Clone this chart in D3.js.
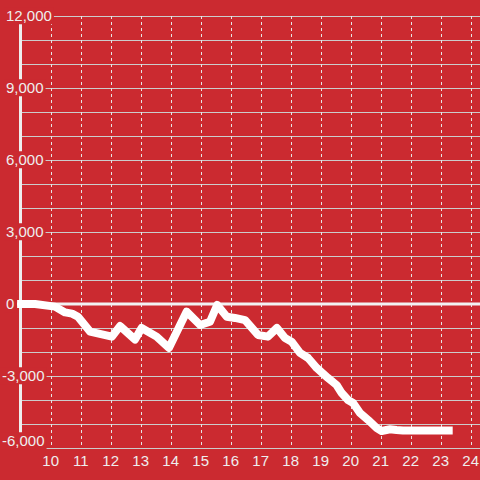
<!DOCTYPE html>
<html lang="en">
<head>
    <meta charset="UTF-8">
    <title>Chart</title>
</head>
<body style="margin:0">
<style>
    body { background: #cb2a30; }
    text { font-family: "Liberation Sans", Arial, sans-serif; font-size: 15px; fill: #eeeeee; }
</style>
<svg width="480" height="480"></svg>
<script src="https://cdn.jsdelivr.net/npm/d3@7"></script>
<script>

    // values
    var times = [8.88, 9.48, 10.14, 10.48, 10.71, 10.91, 11.31, 12.04, 12.31, 12.81, 13.03, 13.53, 13.94,
        14.53, 14.98, 15.31, 15.55, 15.87, 16.14, 16.48, 16.91, 17.24, 17.54, 17.81, 18.03, 18.31, 18.58,
        18.87, 19.24, 19.53, 19.7, 19.91, 20.08, 20.31, 20.58, 20.87, 21.03, 21.31, 21.53, 21.74, 23.4];
    var values = [0, 0, -110, -350, -400, -530, -1150, -1360, -920, -1480, -1000, -1360, -1830,
        -320, -875, -740, -40, -530, -580, -670, -1290, -1360, -1000, -1420, -1570, -2040, -2250,
        -2670, -3080, -3375, -3710, -4000, -4125, -4540, -4830, -5170, -5290, -5220, -5250, -5270, -5270];
    var xTicks = [10, 11, 12, 13, 14, 15, 16, 17, 18, 19, 20, 21, 22, 23, 24];
    var yLabelTicks = [-6000, -3000, 0, 3000, 6000, 9000, 12000];
    var yGridTicks = d3.range(-6000, 12001, 1000);

    var svg = d3.select("svg");

    svg.append("rect").attr("width", 480).attr("height", 480).attr("fill", "#cb2a30");

    var xScale = d3.scaleLinear().domain([10, 24]).range([50.7, 470.7]),
        yScale = d3.scaleLinear().domain([-6000, 12000]).range([448, 16]);

    var fmt = d3.formatLocale({decimal: ".", thousands: ",", grouping: [3], currency: ["$", ""], minus: "-"}).format(",");

    // horizontal grid
    svg.append("g").selectAll("line")
        .data(yGridTicks)
        .enter().append("line")
        .attr("x1", 21).attr("x2", 480)
        .attr("y1", function(d) { return Math.round(yScale(d)) + 0.5; })
        .attr("y2", function(d) { return Math.round(yScale(d)) + 0.5; })
        .attr("stroke", "#cccccc")
        .attr("stroke-width", 1);

    // vertical dashed grid
    svg.append("g").selectAll("line")
        .data(xTicks)
        .enter().append("line")
        .attr("x1", function(d) { return Math.round(xScale(d)) + 0.5; })
        .attr("x2", function(d) { return Math.round(xScale(d)) + 0.5; })
        .attr("y1", yScale(12000)).attr("y2", yScale(-6000))
        .attr("stroke", "#e6e6e6")
        .attr("stroke-width", 1)
        .attr("stroke-dasharray", "3,3");

    // zero line
    svg.append("line")
        .attr("x1", 17).attr("x2", 480)
        .attr("y1", yScale(0)).attr("y2", yScale(0))
        .attr("stroke", "#f2f2f2")
        .attr("stroke-width", 3);

    // y axis line
    svg.append("line")
        .attr("x1", 20.5).attr("x2", 20.5)
        .attr("y1", yScale(12000)).attr("y2", yScale(-6000))
        .attr("stroke", "#eeeeee")
        .attr("stroke-width", 3);

    var data = times.map(function(t, i) { return {t: t, v: values[i]}; });

    var line = d3.line()
        .x(function(d) { return xScale(d.t); })
        .y(function(d) { return yScale(d.v); });

    svg.append("path")
        .datum(data)
        .attr("d", line)
        .attr("fill", "none")
        .attr("stroke", "#ffffff")
        .attr("stroke-width", 8)
        .attr("stroke-linejoin", "round");

    // y labels with background
    var yl = svg.append("g").selectAll("g")
        .data(yLabelTicks)
        .enter().append("g");

    yl.append("text")
        .attr("x", function(d) { return d < 0 ? 2 : 6; })
        .attr("y", function(d) { return yScale(d) + (d === -6000 ? -7 : 0); })
        .attr("dy", "0.35em")
        .text(function(d) { return fmt(d); })
        .each(function() {
            var b = this.getBBox();
            d3.select(this.parentNode).insert("rect", "text")
                .attr("x", b.x - 2).attr("y", b.y)
                .attr("width", b.width + 4).attr("height", b.height)
                .attr("fill", "#cb2a30");
        });

    // x labels
    svg.append("g").selectAll("text")
        .data(xTicks)
        .enter().append("text")
        .attr("x", function(d) { return xScale(d); })
        .attr("y", 461)
        .attr("dy", "0.35em")
        .attr("text-anchor", "middle")
        .text(function(d) { return d; });
</script>
</body>
</html>
